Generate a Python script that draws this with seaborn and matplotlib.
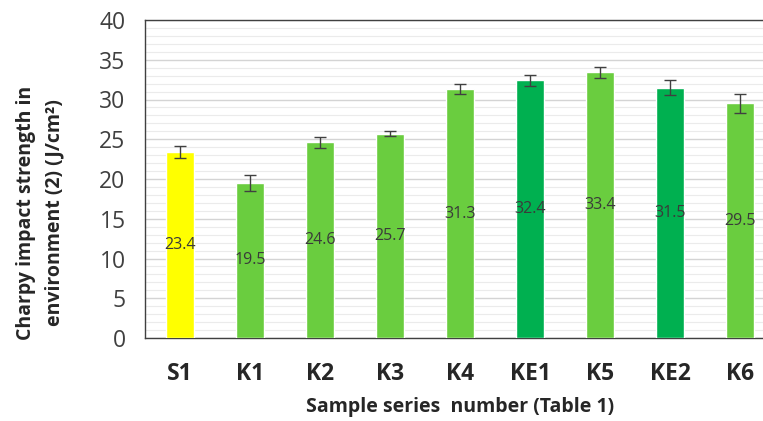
import numpy as np
import pandas as pd
import matplotlib.pyplot as plt
from matplotlib.ticker import MultipleLocator, FixedLocator, NullFormatter
import seaborn as sns

samples = ['S1', 'K1', 'K2', 'K3', 'K4', 'KE1', 'K5', 'KE2', 'K6']
strength = [23.4, 19.5, 24.6, 25.7, 31.3, 32.4, 33.4, 31.5, 29.5]
errors = [0.7, 0.95, 0.65, 0.35, 0.6, 0.65, 0.7, 0.9, 1.25]
colors = ['#FFFF00', '#6ACD3F', '#6ACD3F', '#6ACD3F', '#6ACD3F',
          '#00B050', '#6ACD3F', '#00B050', '#6ACD3F']

df = pd.DataFrame({'sample': samples, 'strength': strength})

sns.set_style('white')
plt.rcParams['font.family'] = ['Open Sans', 'DejaVu Sans']

fig = plt.figure(figsize=(7.63, 4.21), dpi=100)
W, H = 763, 421
ax = fig.add_axes([145 / W, (H - 338) / H, 630 / W, 318 / H])

sns.barplot(data=df, x='sample', y='strength', hue='sample', palette=colors,
            width=0.4, legend=False, ax=ax, zorder=3, saturation=1)

ax.errorbar(range(len(samples)), strength, yerr=errors, fmt='none',
            ecolor='#404040', elinewidth=1, capsize=4, capthick=1, zorder=4)

# value labels in the middle of each bar
for i, v in enumerate(strength):
    ax.text(i, v / 2, f'{v}', ha='center', va='center', fontsize=11.5,
            color='#3a3a3a', zorder=5)

ax.set_xlim(-0.5, len(samples) - 0.5)
ax.set_ylim(0, 40)
ax.yaxis.set_major_locator(MultipleLocator(5))
ax.yaxis.set_minor_locator(MultipleLocator(1))
ax.grid(which='minor', axis='y', color='#ebebeb', linewidth=0.8, zorder=0)
ax.grid(which='major', axis='y', color='#d4d4d4', linewidth=1, zorder=0)

ax.xaxis.set_minor_locator(FixedLocator(np.arange(-0.5, len(samples), 1)))
ax.xaxis.set_minor_formatter(NullFormatter())
ax.tick_params(axis='x', which='major', length=0, pad=17, labelsize=16.5)
ax.tick_params(axis='x', which='minor', length=6, width=1, color='#404040', direction='out')
ax.tick_params(axis='y', which='major', length=7, width=1, color='#404040',
               direction='out', labelsize=16.5, labelcolor='#404040', pad=7)
ax.tick_params(axis='y', which='minor', length=0)
for lab in ax.get_xticklabels():
    lab.set_fontweight('bold')

for side in ['left', 'bottom', 'top']:
    ax.spines[side].set_color('#404040')
    ax.spines[side].set_linewidth(1)
ax.spines['right'].set_visible(False)

ax.set_xlabel('Sample series  number (Table 1)', fontsize=14, fontweight='bold', labelpad=8)
ax.set_ylabel('Charpy impact strength in\nenvironment (2) (J/cm²)', fontsize=14,
              fontweight='bold', linespacing=1.55, va='center')
ax.yaxis.set_label_coords(-0.166, 0.393)

fig.savefig('out.png', dpi=100)
